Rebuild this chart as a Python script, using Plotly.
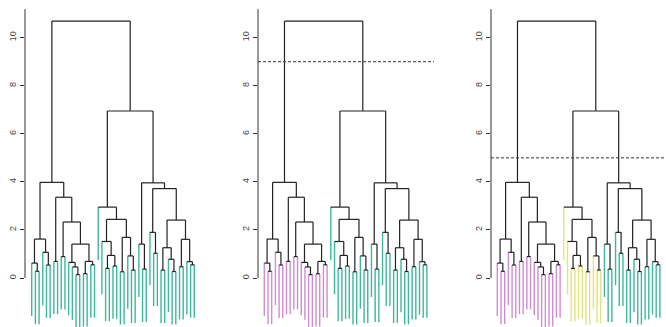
import plotly.graph_objects as go

# ---- dendrogram data (R hclust style: negative = leaf number, positive = merge row) ----
MERGE_A = [-13, -15, -25, -39, -2, -28, -36, -31, -21, -12, -41, -23, -5, -17, -44,
           -1, -11, -43, -7, 2, -38, -9, -27, 9, -34, -4, 7, 17, -30, -20,
           11, 16, 3, -33, 22, 27, 30, -19, 19, 34, 29, 32, 38, 42]
MERGE_B = [-14, -16, -26, -40, -3, -29, -37, -32, -22, 1, -42, -24, -6, -18, -45,
           5, 10, 15, -8, 14, 4, -10, 6, 12, -35, 13, 21, 20, 8, 24,
           18, 26, 23, 25, 28, 31, 33, 37, 35, 36, 40, 39, 41, 43]
HEIGHT = [0.14, 0.18, 0.26, 0.27, 0.28, 0.33, 0.33, 0.37, 0.40, 0.46, 0.47, 0.50, 0.54, 0.55, 0.55,
          0.62, 0.65, 0.68, 0.69, 0.69, 0.78, 0.89, 0.92, 0.94, 1.03, 1.07, 1.26, 1.41, 1.41, 1.52,
          1.61, 1.62, 1.69, 1.90, 2.33, 2.41, 2.44, 2.95, 3.36, 3.72, 3.96, 3.98, 6.95, 10.69]
HANG = 2.2
CUT_HEIGHTS = [None, 9, 5]
Y_TICKS = [0, 2, 4, 6, 8, 10]
PALETTES = [["#3db89d"], ["#d18cd2", "#3db89d"], ["#d18cd2", "#e4e37c", "#3db89d"]]

# ---- layout geometry (pixels) ----
W, H = 666, 327
PANEL_DOMAINS_PX = [(25, 222), (258, 434), (491, 666)]
LEAF0_PX = [31.7, 264.3, 497.3]
LEAF_STEP_PX = 3.695
Y_RANGE = [-2.039, 11.569]
AXIS_TOP = 11.19

n = len(HEIGHT)
pos = {}
def cx(c):
    return (-c - 1) if c < 0 else pos[c]
def ch(c):
    return None if c < 0 else HEIGHT[c - 1]
for i in range(1, n + 1):
    pos[i] = (cx(MERGE_A[i - 1]) + cx(MERGE_B[i - 1])) / 2

def leaves_of(node):
    if node < 0:
        return [-node - 1]
    return leaves_of(MERGE_A[node - 1]) + leaves_of(MERGE_B[node - 1])

def clusters(cut):
    root = n
    if cut is None:
        return [leaves_of(root)]
    out = []
    def rec(node):
        if node < 0 or HEIGHT[node - 1] < cut:
            out.append(leaves_of(node))
        else:
            rec(MERGE_A[node - 1]); rec(MERGE_B[node - 1])
    rec(root)
    out.sort(key=min)
    return out

fig = go.Figure()
layout = dict(width=W, height=H, margin=dict(l=0, r=0, t=0, b=0),
              paper_bgcolor="white", plot_bgcolor="white", showlegend=False)
shapes = []

for p in range(3):
    sfx = "" if p == 0 else str(p + 1)
    xa, ya = "x" + sfx, "y" + sfx
    d0, d1 = PANEL_DOMAINS_PX[p]
    xr = [(d0 - LEAF0_PX[p]) / LEAF_STEP_PX, (d1 - LEAF0_PX[p]) / LEAF_STEP_PX]
    layout["xaxis" + sfx] = dict(domain=[d0 / W, d1 / W], range=xr, visible=False,
                                 anchor=ya, fixedrange=True)
    layout["yaxis" + sfx] = dict(domain=[0, 1], range=Y_RANGE, anchor=xa,
                                 tickvals=Y_TICKS, ticktext=[str(t) for t in Y_TICKS],
                                 ticks="outside", ticklen=4, tickwidth=1, tickcolor="#333",
                                 tickangle=-90, tickfont=dict(size=9, color="#444", family="Liberation Sans"),
                                 showgrid=False, zeroline=False, showline=False,
                                 automargin=False, fixedrange=True)
    # axis line
    shapes.append(dict(type="line", xref=xa + " domain", yref=ya, x0=0, x1=0,
                       y0=0, y1=AXIS_TOP, line=dict(color="#333", width=1)))

    cl = clusters(CUT_HEIGHTS[p])
    leaf_col = {}
    for k, members in enumerate(cl):
        for m in members:
            leaf_col[m] = PALETTES[p][k]

    bx, by = [], []
    leaf_lines = {}
    for i in range(1, n + 1):
        h = HEIGHT[i - 1]
        a, b = MERGE_A[i - 1], MERGE_B[i - 1]
        bx += [cx(a), cx(b), None]; by += [h, h, None]
        for c in (a, b):
            if c > 0:
                bx += [cx(c), cx(c), None]; by += [h, ch(c), None]
            else:
                col = leaf_col[-c - 1]
                lx, ly = leaf_lines.setdefault(col, ([], []))
                lx += [cx(c), cx(c), None]; ly += [h, h - HANG, None]
    for col, (lx, ly) in leaf_lines.items():
        fig.add_trace(go.Scatter(x=lx, y=ly, mode="lines", xaxis=xa, yaxis=ya,
                                 line=dict(color=col, width=1.4), hoverinfo="skip"))
    fig.add_trace(go.Scatter(x=bx, y=by, mode="lines", xaxis=xa, yaxis=ya,
                             line=dict(color="#222", width=1.2), hoverinfo="skip"))
    if CUT_HEIGHTS[p] is not None:
        shapes.append(dict(type="line", xref=xa + " domain", yref=ya, x0=0, x1=1,
                           y0=CUT_HEIGHTS[p], y1=CUT_HEIGHTS[p],
                           line=dict(color="#333", width=1, dash="3px,2px")))

layout["shapes"] = shapes
fig.update_layout(**layout)
fig.write_html("out.html", config={"displayModeBar": False},
               post_script="document.body.style.margin='0';document.body.style.overflow='hidden';")
